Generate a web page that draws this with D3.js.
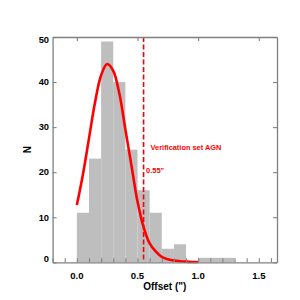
<!DOCTYPE html>
<html>
<head>
<meta charset="utf-8">
<script src="https://cdn.jsdelivr.net/npm/d3@7"></script>
<style>
  body { margin: 0; background: #fff; }
  svg { display: block; font-family: "Liberation Sans", Arial, sans-serif; }
</style>
</head>
<body>
<svg id="chart"></svg>
<script>
// histogram bins (left edges, width 0.1) and counts
const binStarts = [0.0, 0.1, 0.2, 0.3, 0.4, 0.5, 0.6, 0.7, 0.8, 0.9, 1.0, 1.1, 1.2];
const binCounts = [11, 23, 49, 40, 25, 16, 11, 3, 4, 0, 1, 1, 1];
const binWidth = 0.1;

// fitted curve
const fitX = [0.00, 0.05, 0.10, 0.15, 0.20, 0.25, 0.30, 0.35, 0.40, 0.45, 0.50,
              0.55, 0.60, 0.65, 0.70, 0.75, 0.80, 0.85, 0.90, 0.95, 1.00];
const fitY = [12.7, 19.5, 27.5, 35.5, 41.5, 44.0, 42.5, 37.5, 29.5, 21.5, 13.5,
              7.8, 4.2, 2.4, 1.2, 0.7, 0.4, 0.25, 0.15, 0.08, 0.05];

const cutValue = 0.55;
const xMajorTicks = [0.0, 0.5, 1.0, 1.5];
const xMinorTicks = [-0.2, -0.1, 0.0, 0.1, 0.2, 0.3, 0.4, 0.5, 0.6, 0.7, 0.8, 0.9, 1.0, 1.1, 1.2, 1.3, 1.4, 1.5, 1.6];
const yTicks = [0, 10, 20, 30, 40, 50];

const W = 300, H = 300;
const margin = { top: 37, right: 23, bottom: 37.7, left: 52.6 };
const width = W - margin.left - margin.right;
const height = H - margin.top - margin.bottom;
const axisColor = "#808080";

const svg = d3.select("#chart").attr("width", W).attr("height", H);
const g = svg.append("g").attr("transform", `translate(${margin.left},${margin.top})`);

const x = d3.scaleLinear().domain([-0.2, 1.65]).range([0, width]);
const y = d3.scaleLinear().domain([0, 50]).range([height, 0]);

// bars
g.selectAll(".bar")
  .data(binStarts.map((s, i) => ({ s, n: binCounts[i] })).filter(d => d.n > 0))
  .enter().append("rect")
  .attr("class", "bar")
  .attr("x", d => x(d.s))
  .attr("y", d => y(d.n))
  .attr("width", x(binWidth) - x(0))
  .attr("height", d => height - y(d.n))
  .attr("fill", "#bebebe");

// cut line
g.append("line")
  .attr("x1", x(cutValue)).attr("x2", x(cutValue))
  .attr("y1", 0).attr("y2", height)
  .attr("stroke", "#ff0000")
  .attr("stroke-width", 1.6)
  .attr("stroke-dasharray", "5,2.5");

// fit curve
const line = d3.line()
  .x(d => x(d[0]))
  .y(d => y(d[1]))
  .curve(d3.curveCatmullRom);
g.append("path")
  .datum(fitX.map((v, i) => [v, fitY[i]]))
  .attr("d", line)
  .attr("fill", "none")
  .attr("stroke", "#ff0000")
  .attr("stroke-width", 2.6);

// axes
const styleAxis = sel => {
  sel.select(".domain").attr("stroke", axisColor).attr("stroke-width", 1.3);
  sel.selectAll(".tick line").attr("stroke", axisColor).attr("stroke-width", 1.1);
};

g.append("g")
  .attr("transform", `translate(0,${height})`)
  .call(d3.axisBottom(x).tickValues(xMinorTicks).tickSizeInner(-4).tickSizeOuter(0).tickFormat(""))
  .call(styleAxis);

g.append("g")
  .call(d3.axisTop(x).tickValues(xMajorTicks).tickSizeInner(-4).tickSizeOuter(0).tickFormat(""))
  .call(styleAxis);

g.append("g")
  .call(d3.axisLeft(y).tickValues(yTicks).tickSizeInner(-4).tickSizeOuter(0).tickFormat(""))
  .call(styleAxis);

g.append("g")
  .attr("transform", `translate(${width},0)`)
  .call(d3.axisRight(y).tickValues(yTicks).tickSizeInner(-4).tickSizeOuter(0).tickFormat(""))
  .call(styleAxis);

// tick labels
g.selectAll(".xlab")
  .data(xMajorTicks)
  .enter().append("text")
  .attr("x", d => x(d))
  .attr("y", height + 16.8)
  .attr("text-anchor", "middle")
  .style("font-size", "9.6px")
  .style("font-weight", "bold")
  .text(d => d.toFixed(1));

g.selectAll(".ylab")
  .data(yTicks)
  .enter().append("text")
  .attr("x", -3.6)
  .attr("y", d => Math.max(6, Math.min(height, y(d) + 3.3)))
  .attr("text-anchor", "end")
  .style("font-size", "9.3px")
  .style("font-weight", "bold")
  .text(d => d);

// axis titles
g.append("text")
  .attr("x", width / 2)
  .attr("y", height + 28)
  .attr("text-anchor", "middle")
  .style("font-size", "10px")
  .style("font-weight", "bold")
  .text("Offset (\")");

g.append("text")
  .attr("transform", `translate(${-22},${height / 2}) rotate(-90)`)
  .attr("text-anchor", "middle")
  .style("font-size", "10px")
  .style("font-weight", "bold")
  .text("N");

// annotations
g.append("text")
  .attr("x", x(cutValue) + 7)
  .attr("y", 113)
  .attr("fill", "#ff0000")
  .style("font-size", "7.4px")
  .style("font-weight", "bold")
  .text("Verification set AGN");

g.append("text")
  .attr("x", x(cutValue) + 2.4)
  .attr("y", 135.5)
  .attr("fill", "#ff0000")
  .style("font-size", "7.5px")
  .style("font-weight", "bold")
  .text("0.55\"");
</script>
</body>
</html>
